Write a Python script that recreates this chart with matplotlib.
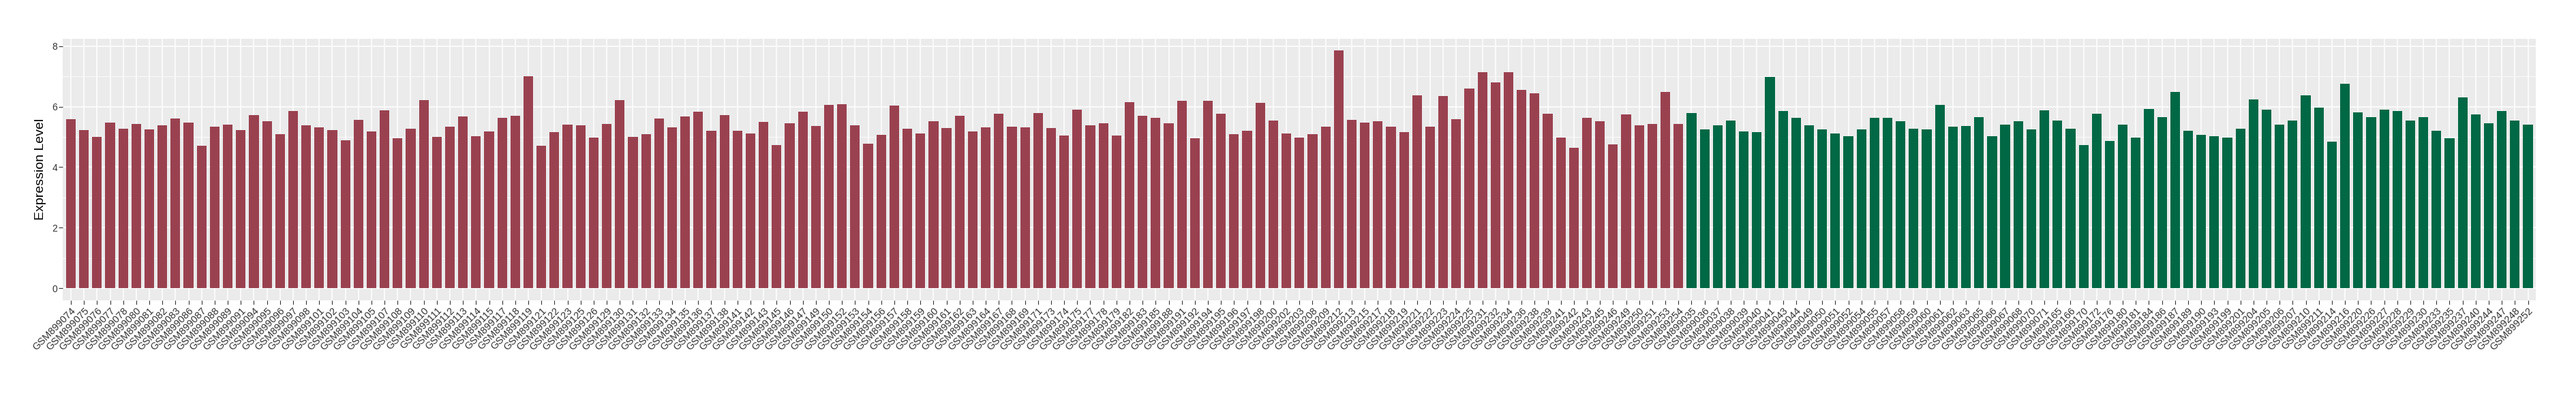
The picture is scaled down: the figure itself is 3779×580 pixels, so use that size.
import matplotlib
matplotlib.use("Agg")
import matplotlib.pyplot as plt
import numpy as np

# Échantillons (groupe 1, rouge)
red_ids = ["074", "075", "076", "077", "078", "080", "081", "082", "083", "086",
           "087", "088", "089", "091", "094", "095", "096", "097", "098", "101",
           "102", "103", "104", "105", "107", "108", "109", "110", "111", "112",
           "113", "114", "115", "117", "118", "119", "121", "122", "123", "125",
           "126", "129", "130", "131", "132", "133", "134", "135", "136", "137",
           "138", "141", "142", "143", "145", "146", "147", "149", "150", "152",
           "153", "154", "156", "157", "158", "159", "160", "161", "162", "163",
           "164", "167", "168", "169", "171", "173", "174", "175", "177", "178",
           "179", "182", "183", "185", "188", "191", "192", "194", "195", "196",
           "197", "198", "200", "202", "203", "208", "209", "212", "213", "215",
           "217", "218", "219", "221", "222", "223", "224", "225", "231", "232",
           "234", "236", "238", "239", "241", "242", "243", "245", "246", "249",
           "250", "251", "253", "254"]
red_values = [5.58, 5.23, 5.00, 5.47, 5.27, 5.43, 5.25, 5.38, 5.61, 5.47,
              4.71, 5.34, 5.40, 5.23, 5.72, 5.52, 5.09, 5.85, 5.38, 5.31,
              5.23, 4.89, 5.56, 5.18, 5.88, 4.96, 5.27, 6.21, 5.00, 5.34,
              5.67, 5.02, 5.18, 5.63, 5.70, 7.00, 4.71, 5.16, 5.40, 5.38,
              4.98, 5.43, 6.21, 5.00, 5.09, 5.61, 5.31, 5.67, 5.83, 5.20,
              5.72, 5.20, 5.11, 5.49, 4.73, 5.45, 5.83, 5.36, 6.06, 6.08,
              5.38, 4.78, 5.07, 6.03, 5.27, 5.11, 5.52, 5.29, 5.70, 5.18,
              5.31, 5.76, 5.34, 5.31, 5.79, 5.29, 5.05, 5.90, 5.38, 5.45,
              5.05, 6.15, 5.70, 5.63, 5.45, 6.19, 4.96, 6.19, 5.76, 5.09,
              5.20, 6.12, 5.54, 5.11, 4.98, 5.09, 5.34, 7.85, 5.56, 5.47,
              5.52, 5.34, 5.16, 6.37, 5.34, 6.35, 5.58, 6.59, 7.15, 6.80,
              7.15, 6.55, 6.44, 5.76, 4.98, 4.65, 5.63, 5.52, 4.75, 5.74,
              5.38, 5.43, 6.48, 5.43]

# Échantillons (groupe 2, vert)
green_ids = ["035", "036", "037", "038", "039", "040", "041", "043", "044", "049",
             "050", "051", "052", "054", "055", "057", "058", "059", "060", "061",
             "062", "063", "065", "066", "067", "068", "070", "071", "165", "166",
             "170", "172", "176", "180", "181", "184", "186", "187", "189", "190",
             "193", "199", "201", "204", "205", "206", "207", "210", "211", "214",
             "216", "220", "226", "227", "228", "229", "230", "233", "235", "237",
             "240", "244", "247", "248", "252"]
green_values = [5.79, 5.25, 5.38, 5.54, 5.18, 5.16, 6.98, 5.85, 5.63, 5.38,
                5.25, 5.11, 5.02, 5.25, 5.63, 5.63, 5.52, 5.27, 5.25, 6.06,
                5.34, 5.36, 5.65, 5.02, 5.40, 5.52, 5.25, 5.88, 5.54, 5.27,
                4.73, 5.76, 4.87, 5.40, 4.98, 5.92, 5.65, 6.48, 5.20, 5.07,
                5.02, 4.98, 5.27, 6.23, 5.90, 5.40, 5.54, 6.37, 5.97, 4.85,
                6.75, 5.80, 5.65, 5.90, 5.85, 5.55, 5.65, 5.20, 4.95, 6.30,
                5.75, 5.45, 5.85, 5.55, 5.40]

red_col = "#9A4150"
green_col = "#006845"

labels = ["GSM899" + s for s in red_ids + green_ids]
values = red_values + green_values
colors = [red_col] * len(red_ids) + [green_col] * len(green_ids)
x = np.arange(len(labels))

plt.rcParams['font.family'] = ['Liberation Sans', 'DejaVu Sans']

fig = plt.figure(figsize=(37.8, 5.8), dpi=100)
ax = fig.add_axes([0.02447, 0.2405, 0.98413 - 0.02447, 0.9017 - 0.2405])
ax.set_facecolor("#EBEBEB")

# Grille façon ggplot
for yv in [1, 3, 5, 7]:
    ax.axhline(yv, color="white", lw=0.55, zorder=0)
for yv in [0, 2, 4, 6, 8]:
    ax.axhline(yv, color="white", lw=1.1, zorder=0)
for xv in x:
    ax.axvline(xv, color="white", lw=1.1, zorder=0)

ax.bar(x, values, width=0.74, color=colors, zorder=2)

ymax = max(values)
ax.set_ylim(-0.05 * ymax, 1.05 * ymax)
ax.set_xlim(-0.6, len(labels) - 1 + 0.6)
ax.set_yticks([0, 2, 4, 6, 8])
ax.set_yticklabels(["0", "2", "4", "6", "8"], fontsize=10, color="#333333")
ax.set_xticks(x)
ax.set_xticklabels(labels, rotation=45, ha="right", va="top",
                   rotation_mode="anchor", fontsize=10.5, color="#333333")
ax.tick_params(axis="both", length=4, width=0.8, color="#333333", pad=2)
for sp in ax.spines.values():
    sp.set_visible(False)
ax.set_ylabel("Expression Level", fontsize=14, labelpad=6)

fig.savefig("out.png", dpi=100)
